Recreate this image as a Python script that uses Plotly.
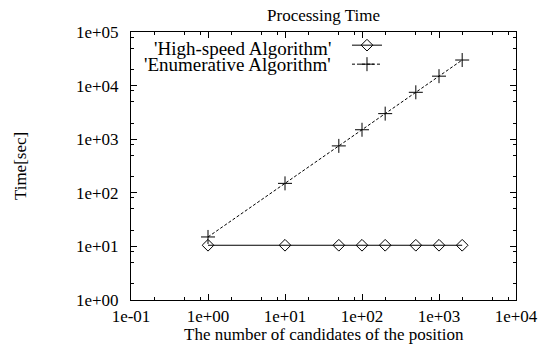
import plotly.graph_objects as go

candidates = [1, 10, 50, 100, 200, 500, 1000, 2000]
high_speed = [10.5, 10.5, 10.5, 10.5, 10.5, 10.5, 10.5, 10.5]
enumerative = [15, 150, 750, 1500, 3000, 7500, 15000, 30000]

x_ticks = [0.1, 1, 10, 100, 1000, 10000]
x_labels = ["1e-01", "1e+00", "1e+01", "1e+02", "1e+03", "1e+04"]
y_ticks = [1, 10, 100, 1000, 10000, 100000]
y_labels = ["1e+00", "1e+01", "1e+02", "1e+03", "1e+04", "1e+05"]

name_hs = "'High-speed Algorithm'"
name_en = "'Enumerative Algorithm'"

FONT = "Liberation Serif"
FS = 17
LFS = 19

def minor_vals(lo, hi):
    vals = []
    d = lo
    while d < hi:
        for m in (2, 5, 8):
            vals.append(m * d)
        d *= 10
    return vals

fig = go.Figure()
fig.add_trace(go.Scatter(x=candidates, y=high_speed, mode="lines+markers", name=name_hs,
                         line=dict(color="black", width=1),
                         marker=dict(symbol="diamond-open", size=9, color="black", line=dict(width=1)),
                         showlegend=False))
fig.add_trace(go.Scatter(x=candidates, y=enumerative, mode="lines+markers", name=name_en,
                         line=dict(color="black", width=1, dash="3px,2px"),
                         marker=dict(symbol="cross-thin-open", size=10, color="black", line=dict(width=1, color="black")),
                         showlegend=False))
# legend samples (gnuplot style: text left, sample right)
fig.add_trace(go.Scatter(x=[None], y=[None], mode="lines+markers", name="",
                         line=dict(color="black", width=1),
                         marker=dict(symbol="diamond-open", size=9, color="black", line=dict(width=1))))
fig.add_trace(go.Scatter(x=[None], y=[None], mode="lines+markers", name="",
                         line=dict(color="black", width=1, dash="3px,2px"),
                         marker=dict(symbol="cross-thin-open", size=10, color="black", line=dict(width=1, color="black"))))

axis_common = dict(type="log", showgrid=False, zeroline=False, showline=True, linecolor="black",
                   linewidth=1, mirror="ticks", ticks="inside", ticklen=6, tickcolor="black",
                   tickfont=dict(family=FONT, size=FS, color="black"))

fig.update_xaxes(range=[-1, 4], tickmode="array", tickvals=x_ticks, ticktext=x_labels,
                 minor=dict(ticks="inside", ticklen=3, tickcolor="black", tickvals=minor_vals(0.1, 10000)),
                 ticklabelstandoff=1,
                 **axis_common)
fig.update_yaxes(range=[0, 5], tickmode="array", tickvals=y_ticks, ticktext=y_labels,
                 minor=dict(ticks="inside", ticklen=3, tickcolor="black", tickvals=minor_vals(1, 100000)),
                 ticklabelstandoff=8,
                 **axis_common)

fig.update_layout(
    width=551, height=347,
    margin=dict(l=131, r=35, t=32, b=47, autoexpand=False),
    paper_bgcolor="white", plot_bgcolor="white",
    font=dict(family=FONT, size=FS, color="black"),
    title=dict(text="Processing Time", x=0.5, xref="paper", xanchor="center", y=0.958, yanchor="middle",
               font=dict(family=FONT, size=FS, color="black")),
    legend=dict(x=0.561, y=1.005, xanchor="left", yanchor="top", bgcolor="rgba(0,0,0,0)",
                font=dict(family=FONT, size=9), tracegroupgap=0, itemwidth=30),
    annotations=[
        dict(text=name_hs, xref="paper", yref="paper", x=0.525, y=0.940, xanchor="right", yanchor="middle",
             showarrow=False, font=dict(family=FONT, size=LFS, color="black")),
        dict(text=name_en, xref="paper", yref="paper", x=0.525, y=0.877, xanchor="right", yanchor="middle",
             showarrow=False, font=dict(family=FONT, size=LFS, color="black")),
        dict(text="The number of candidates of the position", xref="paper", yref="paper", x=0.5, y=-0.13,
             xanchor="center", yanchor="middle", showarrow=False, font=dict(family=FONT, size=FS, color="black")),
        dict(text="Time[sec]", xref="paper", yref="paper", x=-0.288, y=0.5, textangle=-90,
             xanchor="center", yanchor="middle", showarrow=False, font=dict(family=FONT, size=FS, color="black")),
    ],
)

fig.write_html("out.html", config={"displayModeBar": False},
               post_script="document.body.style.margin='0';document.body.style.padding='0';")
